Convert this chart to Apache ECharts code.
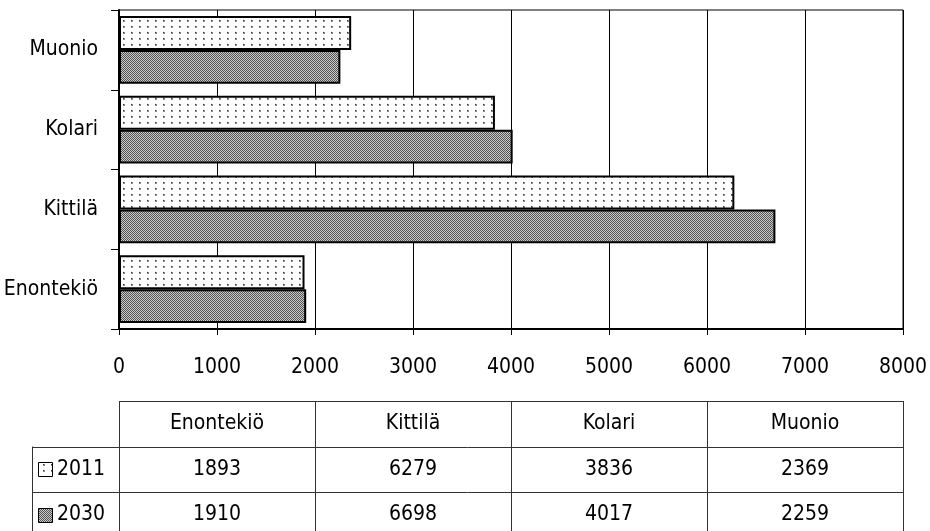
<!DOCTYPE html>
<html>
<head>
<meta charset="utf-8">
<script src="https://cdn.jsdelivr.net/npm/echarts@6/dist/echarts.min.js"></script>
<style>
html,body{margin:0;padding:0;background:#fff;}
#c{width:930px;height:531px;}
</style>
</head>
<body>
<div id="c"></div>
<script>
const categories = ['Enontekiö', 'Kittilä', 'Kolari', 'Muonio'];
const seriesNames = ['2011', '2030'];
const values2011 = [1893, 6279, 3836, 2369];
const values2030 = [1910, 6698, 4017, 2259];
const xTicks = [0, 1000, 2000, 3000, 4000, 5000, 6000, 7000, 8000];

const FONT = "'Liberation Sans Narrow', 'Arial Narrow', 'DejaVu Sans Condensed', sans-serif";
const FS = 21;

function dotPattern() {
  const c = document.createElement('canvas');
  c.width = 8; c.height = 6;
  const g = c.getContext('2d');
  g.fillStyle = '#ffffff'; g.fillRect(0, 0, 8, 6);
  g.fillStyle = '#8a8a8a'; g.fillRect(3, 2, 2, 2);
  g.fillStyle = '#333333'; g.fillRect(3, 2, 1, 1);
  return c;
}
function checkPattern() {
  const c = document.createElement('canvas');
  c.width = 2; c.height = 2;
  const g = c.getContext('2d');
  g.fillStyle = '#555555'; g.fillRect(0, 0, 2, 2);
  g.fillStyle = '#c8c8c8'; g.fillRect(1, 0, 1, 1); g.fillRect(0, 1, 1, 1);
  return c;
}
const pat2011 = { image: dotPattern(), repeat: 'repeat' };
const pat2030 = { image: checkPattern(), repeat: 'repeat' };

const G = { left: 119, right: 27, top: 10, bottom: 202 };
const chart = echarts.init(document.getElementById('c'));

const tableTop = 401, rowH = 45.5, tableLeft = 32, colStart = 119, colEnd = 903;
const colW = (colEnd - colStart) / categories.length;
const graphics = [];
function line(x1, y1, x2, y2) {
  graphics.push({ type: 'line', silent: true, shape: { x1, y1, x2, y2 }, style: { stroke: '#333', lineWidth: 1 } });
}
function text(x, y, s, align) {
  graphics.push({ type: 'text', silent: true, x, y, style: { text: s, font: FS + 'px ' + FONT, fill: '#000', align: align || 'center', verticalAlign: 'middle' } });
}
const nRows = seriesNames.length;
const tableBottom = tableTop + rowH * (nRows + 1);
line(colStart, tableTop + 0.5, colEnd, tableTop + 0.5);
for (let r = 1; r <= nRows + 1; r++) {
  const y = Math.round(tableTop + rowH * r) + 0.5;
  line(tableLeft, y, colEnd, y);
}
line(tableLeft + 0.5, tableTop + rowH, tableLeft + 0.5, tableBottom + 10);
for (let c = 0; c <= categories.length; c++) {
  const x = Math.round(colStart + colW * c) + 0.5;
  line(x, tableTop, x, tableBottom + 10);
}
categories.forEach((cat, i) => text(colStart + colW * (i + 0.5), tableTop + rowH / 2, cat));
const rowsData = [values2011, values2030];
const pats = [pat2011, pat2030];
rowsData.forEach((vals, r) => {
  const cy = tableTop + rowH * (r + 1.5);
  vals.forEach((v, i) => text(colStart + colW * (i + 0.5), cy, String(v)));
  graphics.push({ type: 'rect', silent: true, shape: { x: 38.5, y: Math.round(cy - 7) + 0.5, width: 14, height: 14 }, style: { fill: pats[r], stroke: '#000', lineWidth: 1 } });
  text(57, cy, seriesNames[r], 'left');
});

chart.setOption({
  animation: false,
  backgroundColor: '#fff',
  grid: { left: G.left, right: G.right, top: G.top, bottom: G.bottom, containLabel: false, outerBoundsMode: 'none',
    show: true, borderColor: '#000', borderWidth: 1, backgroundColor: 'transparent' },
  xAxis: {
    type: 'value', min: xTicks[0], max: xTicks[xTicks.length - 1], interval: 1000,
    axisLine: { show: true, lineStyle: { color: '#000', width: 2 } },
    axisTick: { show: true, length: 6, lineStyle: { color: '#000', width: 1 } },
    axisLabel: { margin: 28, color: '#000', fontSize: FS, fontFamily: FONT, formatter: v => String(v) },
    splitLine: { show: true, lineStyle: { color: '#000', width: 1 } }
  },
  yAxis: {
    type: 'category', data: categories,
    axisLine: { show: true, lineStyle: { color: '#000', width: 2 } },
    axisTick: { show: true, length: 8, lineStyle: { color: '#000', width: 1 } },
    axisLabel: { margin: 21, color: '#000', fontSize: FS, fontFamily: FONT },
    splitLine: { show: false }
  },
  series: [
    { name: '2011', type: 'bar', data: values2011, barGap: '0%', barCategoryGap: '15%',
      itemStyle: { color: pat2011, borderColor: '#000', borderWidth: 2 } },
    { name: '2030', type: 'bar', data: values2030, barGap: '0%', barCategoryGap: '15%',
      itemStyle: { color: pat2030, borderColor: '#000', borderWidth: 2 } }
  ],
  graphic: graphics
});
</script>
</body>
</html>
